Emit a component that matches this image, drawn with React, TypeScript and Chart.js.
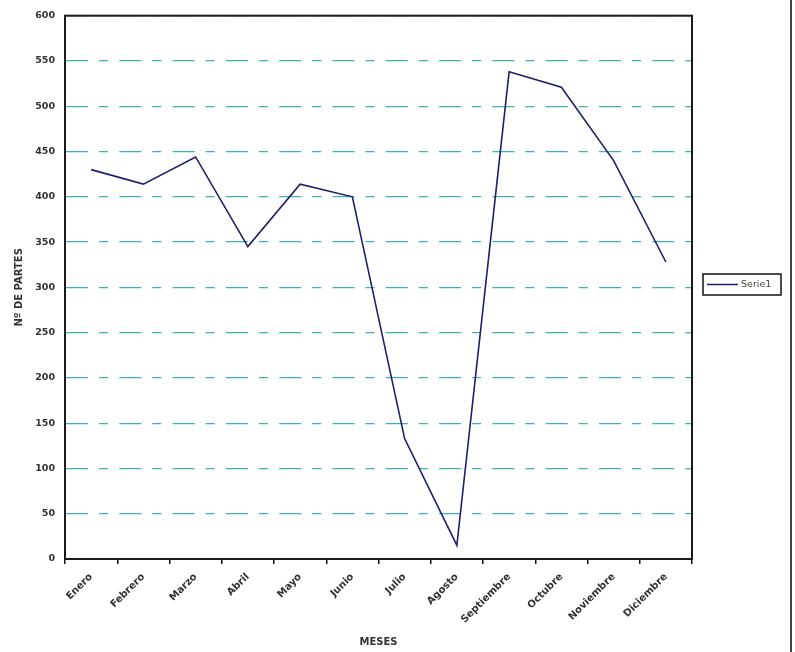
import React, { useEffect, useRef } from "react";
import { Chart, registerables } from "chart.js";

Chart.register(...registerables);

const months = [
  "Enero", "Febrero", "Marzo", "Abril", "Mayo", "Junio",
  "Julio", "Agosto", "Septiembre", "Octubre", "Noviembre", "Diciembre",
];
const serie1 = [430, 414, 444, 345, 414, 400, 133, 15, 538, 521, 440, 328];
const seriesName = "Serie1";
const yTitle = "Nº DE PARTES";
const xTitle = "MESES";

const W = 795;
const H = 652;
const FONT = "'DejaVu Sans', 'Liberation Sans', Arial, sans-serif";

const framePlugin = {
  id: "frameAndLegend",
  afterDraw(chart: any) {
    const { ctx, chartArea } = chart;
    ctx.save();
    ctx.strokeStyle = "#1a1a1a";
    ctx.lineWidth = 2;
    ctx.strokeRect(chartArea.left, chartArea.top, chartArea.right - chartArea.left, chartArea.bottom - chartArea.top);
    // legend box
    const ds = chart.data.datasets[0];
    const bx = 703, by = 274, bw = 78, bh = 21;
    ctx.fillStyle = "#ffffff";
    ctx.fillRect(bx, by, bw, bh);
    ctx.lineWidth = 1.5;
    ctx.strokeStyle = "#111";
    ctx.strokeRect(bx, by, bw, bh);
    ctx.strokeStyle = ds.borderColor;
    ctx.lineWidth = 1.5;
    ctx.beginPath();
    ctx.moveTo(bx + 4, by + bh / 2);
    ctx.lineTo(bx + 35, by + bh / 2);
    ctx.stroke();
    ctx.fillStyle = "#444";
    ctx.font = `9.5px ${FONT}`;
    ctx.textBaseline = "middle";
    ctx.textAlign = "left";
    ctx.fillText(ds.label, bx + 38, by + bh / 2 + 0.5);
    ctx.restore();
  },
};

export default function App() {
  const ref = useRef<HTMLCanvasElement>(null);
  useEffect(() => {
    if (!ref.current) return;
    const chart = new Chart(ref.current, {
      type: "line",
      data: {
        labels: months,
        datasets: [
          {
            label: seriesName,
            data: serie1,
            borderColor: "#1f1f6b",
            borderWidth: 1.6,
            pointRadius: 0,
            tension: 0,
            fill: false,
          },
        ],
      },
      options: {
        animation: false,
        responsive: false,
        devicePixelRatio: 1,
        layout: { padding: { top: 12, right: 103, left: 0, bottom: 0 } },
        plugins: { legend: { display: false }, tooltip: { enabled: false } },
        scales: {
          x: {
            offset: true,
            afterFit(scale: any) { scale.height = 93; },
            grid: {
              display: true,
              offset: true,
              drawOnChartArea: false,
              drawTicks: true,
              tickLength: 5,
              color: "#111",
              lineWidth: 1.5,
            },
            border: { display: true, color: "#111", width: 2 },
            ticks: {
              minRotation: 45,
              maxRotation: 45,
              autoSkip: false,
              padding: 7,
              color: "#333",
              font: { family: FONT, size: 10, weight: "bold" },
            },
            title: {
              display: true,
              text: xTitle,
              color: "#333",
              font: { family: FONT, size: 10, weight: "bold" },
              padding: { top: 0, bottom: 4 },
            },
          },
          y: {
            min: 0,
            max: 600,
            afterFit(scale: any) { scale.width = 65; },
            grid: {
              color: "#3fb0bb",
              lineWidth: 1.3,
              drawTicks: false,
            },
            border: { display: true, color: "#111", width: 2, dash: [22, 11, 9, 11.3] },
            ticks: {
              stepSize: 50,
              padding: 10,
              color: "#333",
              font: { family: FONT, size: 9.5, weight: "bold" },
            },
            title: {
              display: true,
              text: yTitle,
              color: "#333",
              font: { family: FONT, size: 10, weight: "bold" },
              padding: { top: 13, bottom: 4 },
            },
          },
        },
      },
      plugins: [framePlugin],
    } as any);
    return () => chart.destroy();
  }, []);
  return (
    <div style={{ position: "absolute", left: 0, top: 0, width: W, height: H, background: "#fff" }}>
      <canvas ref={ref} width={W} height={H} style={{ width: W, height: H, display: "block" }} />
      <div style={{ position: "absolute", left: 790, top: 0, width: 2, height: H, background: "#444" }} />
    </div>
  );
}
